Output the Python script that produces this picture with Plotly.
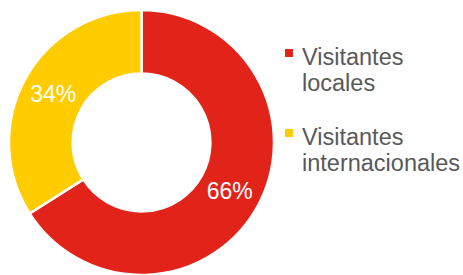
import plotly.graph_objects as go

W, H = 463, 275

categories = ["Visitantes locales", "Visitantes internacionales"]
legend_lines = [["Visitantes", "locales"], ["Visitantes", "internacionales"]]
values = [66, 34]
colors = ["#E2231A", "#FFCC00"]

def px(x):
    return x / W

def py(y):
    return min(1, max(0, 1 - y / H))

cx, cy, r = 141.5, 142.5, 132.5

fig = go.Figure(go.Pie(
    labels=categories,
    values=values,
    hole=0.52,
    sort=False,
    direction="clockwise",
    rotation=0,
    marker=dict(colors=colors, line=dict(color="white", width=2.5)),
    texttemplate="%{percent:.0%}",
    textposition="inside",
    insidetextorientation="horizontal",
    textfont=dict(color="white", size=23, family="Liberation Sans, Arial, sans-serif"),
    hoverinfo="skip",
    showlegend=False,
    domain=dict(x=[px(cx - r), px(cx + r)], y=[py(cy + r), py(cy - r)]),
))

annotations = []
shapes = []
item_base = [62, 142]
for i, lines in enumerate(legend_lines):
    b = item_base[i]
    mc = b - 9
    shapes.append(dict(type="rect", xref="paper", yref="paper",
                       x0=px(285), x1=px(293), y0=py(mc + 4), y1=py(mc - 4),
                       fillcolor=colors[i], line=dict(width=0)))
    for j, t in enumerate(lines):
        annotations.append(dict(
            text=t, xref="paper", yref="paper", x=px(300), y=py(b + 26 * j - 5.5),
            xanchor="left", yanchor="middle", showarrow=False,
            font=dict(size=23.5, color="#595959", family="Liberation Sans, Arial, sans-serif"),
        ))

fig.update_layout(
    width=W, height=H,
    margin=dict(l=0, r=0, t=0, b=0),
    paper_bgcolor="white", plot_bgcolor="white",
    annotations=annotations, shapes=shapes,
)

fig.write_html("out.html", config={"displayModeBar": False},
               post_script="document.body.style.margin='0';document.body.style.overflow='hidden';")
